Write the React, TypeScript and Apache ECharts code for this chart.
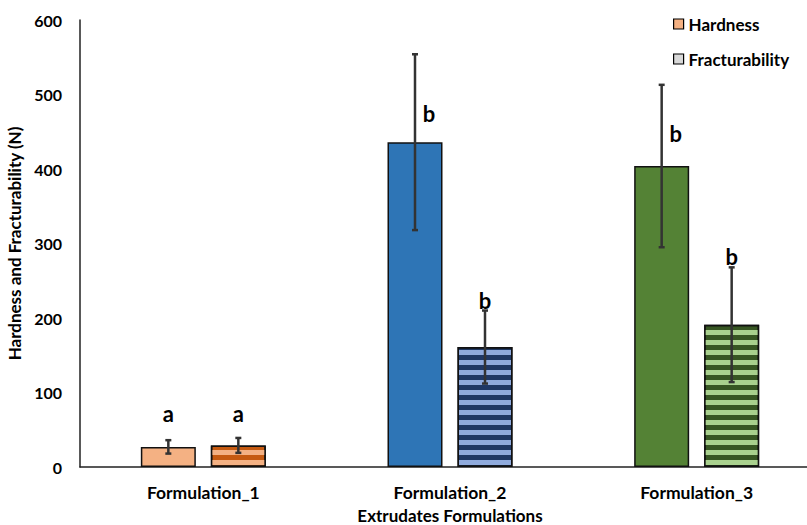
import React, { useEffect, useRef } from "react";
import * as echarts from "echarts";

const categories = ["Formulation_1", "Formulation_2", "Formulation_3"];
const hardness = [27, 436, 404];
const hardnessErr = [9, 118, 109];
const fracturability = [29, 161, 191];
const fracturabilityErr = [10, 49, 77];
const hardnessLetters = ["a", "b", "b"];
const hardnessLetterY = [72, 475, 448];
const fractLetters = ["a", "b", "b"];
const fractLetterY = [72, 224, 282];
const yTicks = [0, 100, 200, 300, 400, 500, 600];

const hardColors = ["#F4B183", "#2E75B6", "#548235"];
const fractDark = ["#C55A11", "#1F3864", "#375623"];
const fractLight = ["#F4B183", "#8FAADC", "#A9D18E"];

const FONT = "Lato, 'Open Sans', sans-serif";
const BAR_W = 55;
const BAR_GAP = 15;

export default function App() {
  const ref = useRef<HTMLDivElement>(null);
  useEffect(() => {
    if (!ref.current) return;
    const chart = echarts.init(ref.current, undefined, { renderer: "svg" });
    const offsetFor = (s: number) => (s === 0 ? -1 : 1) * (BAR_W + BAR_GAP) / 2;

    const errData: number[][] = [];
    hardness.forEach((v, i) => errData.push([i, v, hardnessErr[i], 0]));
    fracturability.forEach((v, i) => errData.push([i, v, fracturabilityErr[i], 1]));

    const letterData: any[] = [];
    hardnessLetters.forEach((l, i) =>
      letterData.push({ value: [i, hardnessLetterY[i], 0, hardness[i] + hardnessErr[i], hardness[i] - hardnessErr[i]], letter: l })
    );
    fractLetters.forEach((l, i) =>
      letterData.push({ value: [i, fractLetterY[i], 1, fracturability[i] + fracturabilityErr[i], fracturability[i] - fracturabilityErr[i]], letter: l })
    );

    const option: any = {
      animation: false,
      backgroundColor: "#fff",
      grid: { left: 80, right: -13, top: 20, bottom: 58, outerBoundsMode: "none", containLabel: false },
      legend: {
        orient: "vertical",
        left: 668,
        top: 9,
        itemWidth: 10,
        itemHeight: 10,
        itemGap: 15,
        icon: "rect",
        textStyle: { fontFamily: FONT, fontWeight: "bold", fontSize: 17, lineHeight: 20, color: "#000" },
        data: [
          { name: "Hardness", itemStyle: { color: "#F4B183", borderColor: "#000", borderWidth: 1.2 } },
          { name: "Fracturability", itemStyle: { color: "#D9D9D9", borderColor: "#000", borderWidth: 1.2, decal: "none" } },
        ],
      },
      xAxis: {
        type: "category",
        data: categories,
        name: "Extrudates Formulations",
        nameLocation: "middle",
        nameGap: 40,
        nameTextStyle: { fontFamily: FONT, fontWeight: "bold", fontSize: 17, lineHeight: 17, color: "#000" },
        axisLine: { lineStyle: { color: "#222", width: 1.5 } },
        axisTick: { show: false },
        axisLabel: { fontFamily: FONT, fontWeight: "bold", fontSize: 17.5, color: "#000", margin: 16 },
      },
      yAxis: {
        type: "value",
        min: 0,
        max: 600,
        interval: 100,
        name: "Hardness and Fracturability (N)",
        nameLocation: "middle",
        nameGap: 54,
        nameTextStyle: { fontFamily: FONT, fontWeight: "bold", fontSize: 17, color: "#000" },
        axisLine: { show: true, lineStyle: { color: "#222", width: 1.5 } },
        axisTick: { show: false },
        splitLine: { show: false },
        axisLabel: {
          fontFamily: FONT,
          fontWeight: "bold",
          fontSize: 16,
          color: "#000",
          margin: 18,
          formatter: (v: number) => (yTicks.includes(v) ? String(v) : ""),
        },
      },
      series: [
        {
          name: "Hardness",
          type: "bar",
          barWidth: BAR_W,
          barGap: `${(BAR_GAP / BAR_W) * 100}%`,
          itemStyle: { color: "#F4B183", borderColor: "#111", borderWidth: 1.5 },
          data: hardness.map((v, i) => ({ value: v, itemStyle: { color: hardColors[i] } })),
          z: 2,
        },
        {
          name: "Fracturability",
          type: "bar",
          barWidth: BAR_W,
          itemStyle: { color: "#D9D9D9", borderColor: "#111", borderWidth: 1.5 },
          data: fracturability.map((v, i) => ({
            value: v,
            itemStyle: {
              color: fractDark[i],
              decal: {
                symbol: "rect",
                symbolSize: 1,
                dashArrayX: [1, 0],
                dashArrayY: [5, 5],
                rotation: 0,
                color: fractLight[i],
              },
            },
          })),
          z: 2,
        },
        {
          type: "custom",
          name: "err",
          z: 5,
          silent: true,
          data: errData,
          encode: { x: 0, y: 1 },
          renderItem: (params: any, api: any) => {
            const cat = api.value(0);
            const v = api.value(1);
            const e = api.value(2);
            const s = api.value(3);
            const dx = offsetFor(s);
            const top = api.coord([cat, v + e]);
            const bot = api.coord([cat, v - e]);
            const x = top[0] + dx;
            const cap = 3;
            const st = { stroke: "#333", lineWidth: 2.5 };
            return {
              type: "group",
              children: [
                { type: "line", shape: { x1: x, y1: top[1], x2: x, y2: bot[1] }, style: st },
                { type: "line", shape: { x1: x - cap, y1: top[1], x2: x + cap, y2: top[1] }, style: st },
                { type: "line", shape: { x1: x - cap, y1: bot[1], x2: x + cap, y2: bot[1] }, style: st },
              ],
            };
          },
        },
        {
          type: "custom",
          name: "letters",
          z: 6,
          silent: true,
          data: letterData,
          encode: { x: 0, y: 1 },
          renderItem: (params: any, api: any) => {
            const cat = api.value(0);
            const ly = api.value(1);
            const s = api.value(2);
            const eTop = api.value(3);
            const eBot = api.value(4);
            const p = api.coord([cat, ly]);
            const inside = ly < eTop && ly > eBot;
            const x = p[0] + offsetFor(s) + (inside ? 14 : 0);
            return {
              type: "text",
              x,
              y: p[1],
              style: {
                text: letterData[params.dataIndex].letter,
                fontFamily: FONT,
                fontWeight: "bold",
                fontSize: 22,
                fill: "#000",
                align: "center",
                verticalAlign: "middle",
              },
            };
          },
        },
      ],
    };
    chart.setOption(option);
    return () => chart.dispose();
  }, []);
  return <div ref={ref} style={{ width: 807, height: 525, position: "absolute", left: 0, top: 0 }} />;
}
